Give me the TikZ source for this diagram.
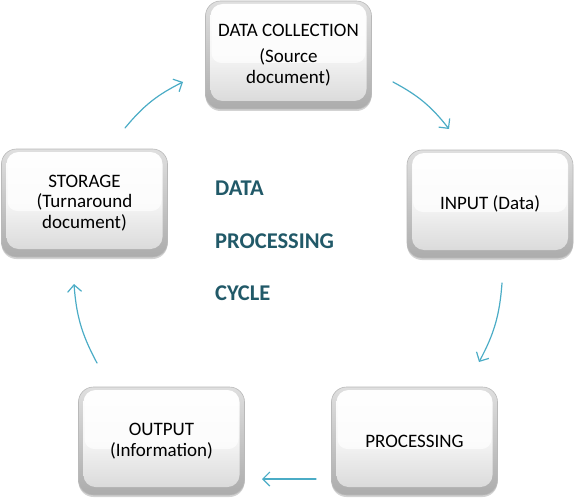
\documentclass[tikz,border=0pt]{standalone}
\usepackage{fontspec}
\setmainfont{Carlito}
\usetikzlibrary{arrows.meta,shadows,calc}
\definecolor{titlecol}{HTML}{215968}
\definecolor{arrowcol}{HTML}{4BACC6}
\begin{document}
\begin{tikzpicture}[x=1pt,y=-1pt,
  box/.style={rectangle, rounded corners=15pt, minimum width=166pt, minimum height=108pt,
    inner sep=0pt, align=center, font=\fontsize{19}{20.5}\selectfont,
    draw=gray!55, line width=0.6pt, top color=gray!25, bottom color=gray!65,
    drop shadow={shadow xshift=0pt,shadow yshift=-2pt,opacity=0.35,fill=gray},
    path picture={
      \shade[rounded corners=12pt, top color=white, bottom color=gray!32, middle color=white!92!gray]
        ([xshift=5pt,yshift=-3pt]path picture bounding box.north west) rectangle
        ([xshift=-5pt,yshift=8pt]path picture bounding box.south east);
      \fill[white, opacity=0.7, rounded corners=10pt]
        ([xshift=6pt,yshift=-4pt]path picture bounding box.north west) rectangle
        ([xshift=-6pt,yshift=-62pt]path picture bounding box.north east);
    }},
  title/.style={anchor=base west, inner sep=0pt, text=titlecol,
    font=\bfseries\fontsize{22.5}{27}\selectfont},
  arr/.style={draw=arrowcol, line width=1.2pt, line cap=round,
    -{Straight Barb[length=7pt,width=14pt]}}
]
\useasboundingbox (0,0) rectangle (575,500);

\node[box] (dc) at (288.5,55) {DATA COLLECTION\\[6pt](Source\\document)};
\node[box] (st) at (84.5,203) {STORAGE\\(Turnaround\\document)};
\node[box] (in) at (490,204) {INPUT (Data)};
\node[box] (pr) at (414.5,441) {PROCESSING};
\node[box] (ou) at (161.5,441) {OUTPUT\\(Information)};

\node[title] (t1) at (215,195) {DATA};
\node[title] (t2) at (215,248) {PROCESSING};
\node[title] (t3) at (215,300) {CYCLE};

\coordinate (a1s) at (125,128);
\coordinate (a1e) at (183,82);
\coordinate (a2s) at (393,82);
\coordinate (a2e) at (449,129);
\coordinate (a3s) at (502,283);
\coordinate (a3e) at (479,362);
\coordinate (a4s) at (316,479);
\coordinate (a4e) at (262,479);
\coordinate (a5s) at (97,363);
\coordinate (a5e) at (74,284);

\draw[arr] (a1s) to[bend left=12] (a1e);
\draw[arr] (a2s) to[bend left=12] (a2e);
\draw[arr] (a3s) to[bend left=12] (a3e);
\draw[arr] (a4s) to (a4e);
\draw[arr] (a5s) to[bend left=12] (a5e);
\end{tikzpicture}
\end{document}
